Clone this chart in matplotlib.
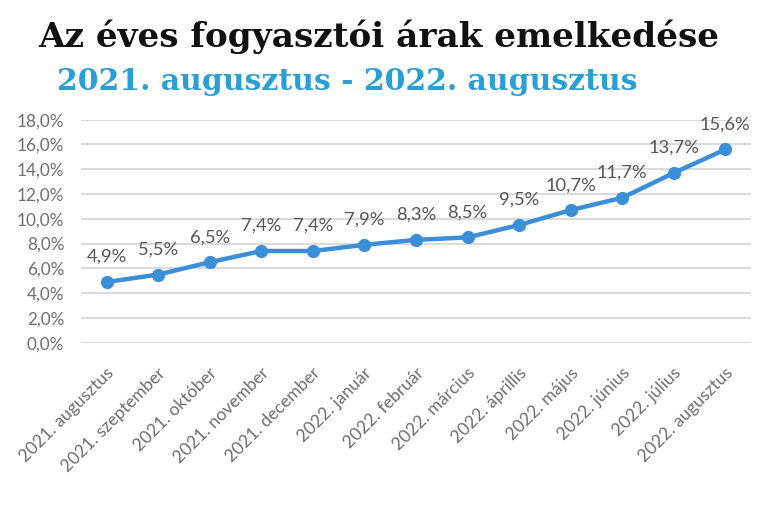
import matplotlib
matplotlib.use("Agg")
import matplotlib.pyplot as plt
import matplotlib.transforms as mtransforms
from matplotlib.ticker import FuncFormatter, MultipleLocator

categories = ["2021. augusztus", "2021. szeptember", "2021. október", "2021. november",
              "2021. december", "2022. január", "2022. február", "2022. március",
              "2022. áprillis", "2022. május", "2022. június", "2022. július",
              "2022. augusztus"]
values = [4.9, 5.5, 6.5, 7.4, 7.4, 7.9, 8.3, 8.5, 9.5, 10.7, 11.7, 13.7, 15.6]
title = "Az éves fogyasztói árak emelkedése"
subtitle = "2021. augusztus - 2022. augusztus"

W, H, DPI = 768, 511, 100
fig = plt.figure(figsize=(W / DPI, H / DPI), dpi=DPI)
fig.patch.set_facecolor("white")

ax = fig.add_axes([80.9 / W, 1 - 342.7 / H, (751.1 - 80.9) / W, (342.7 - 119.7) / H])
x = list(range(len(values)))
line_color = "#3B8ED8"
ax.plot(x, values, color=line_color, lw=3.2, marker="o", ms=8.5,
        markerfacecolor=line_color, markeredgecolor=line_color, zorder=3,
        solid_capstyle="round")

ax.set_xlim(-0.5, len(values) - 0.5)
ax.set_ylim(0, 18)
ax.yaxis.set_major_locator(MultipleLocator(2))
ax.yaxis.set_major_formatter(FuncFormatter(lambda v, p: f"{v:.1f}".replace(".", ",") + "%"))
ax.grid(axis="y", color="#d9d9d9", lw=1.4, zorder=0)
ax.set_axisbelow(True)
for s in ax.spines.values():
    s.set_visible(False)
ax.tick_params(axis="both", length=0)
ax.tick_params(axis="y", pad=12, labelsize=12.3, labelcolor="#6e6e6e")
for t in ax.get_yticklabels():
    t.set_fontfamily("Lato")

ax.set_xticks(x)
ax.set_xticklabels(categories, rotation=45, ha="right", va="center",
                   rotation_mode="anchor", fontsize=12.6, color="#6e6e6e",
                   fontfamily="Lato")
ax.tick_params(axis="x", pad=20)
offset = mtransforms.ScaledTranslation(5 / DPI, 0, fig.dpi_scale_trans)
for t in ax.get_xticklabels():
    t.set_transform(t.get_transform() + offset)

for xi, v in zip(x, values):
    ax.annotate(f"{v:.1f}".replace(".", ",") + "%", (xi, v), xytext=(0, 14.4),
                textcoords="offset points", ha="center", va="baseline",
                fontsize=13.2, color="#555555", fontfamily="Lato")

# Titles, fitted to the reference width
def fit_text(txt, target_w, cx, baseline_y, color, size0):
    t = fig.text(cx / W, 1 - baseline_y / H, txt, ha="center", va="baseline",
                 fontsize=size0, fontweight="bold", fontfamily="DejaVu Serif", color=color)
    r = fig.canvas.get_renderer()
    w = t.get_window_extent(r).width
    t.set_fontsize(size0 * target_w / w)
    return t

fit_text(title, 720 - 36.7, (36.7 + 720) / 2, 47.5, "#111111", 24)
fit_text(subtitle, 637 - 58, (58 + 637) / 2, 90, "#2A9FD6", 18)

fig.savefig("out.png", dpi=DPI, facecolor="white")
